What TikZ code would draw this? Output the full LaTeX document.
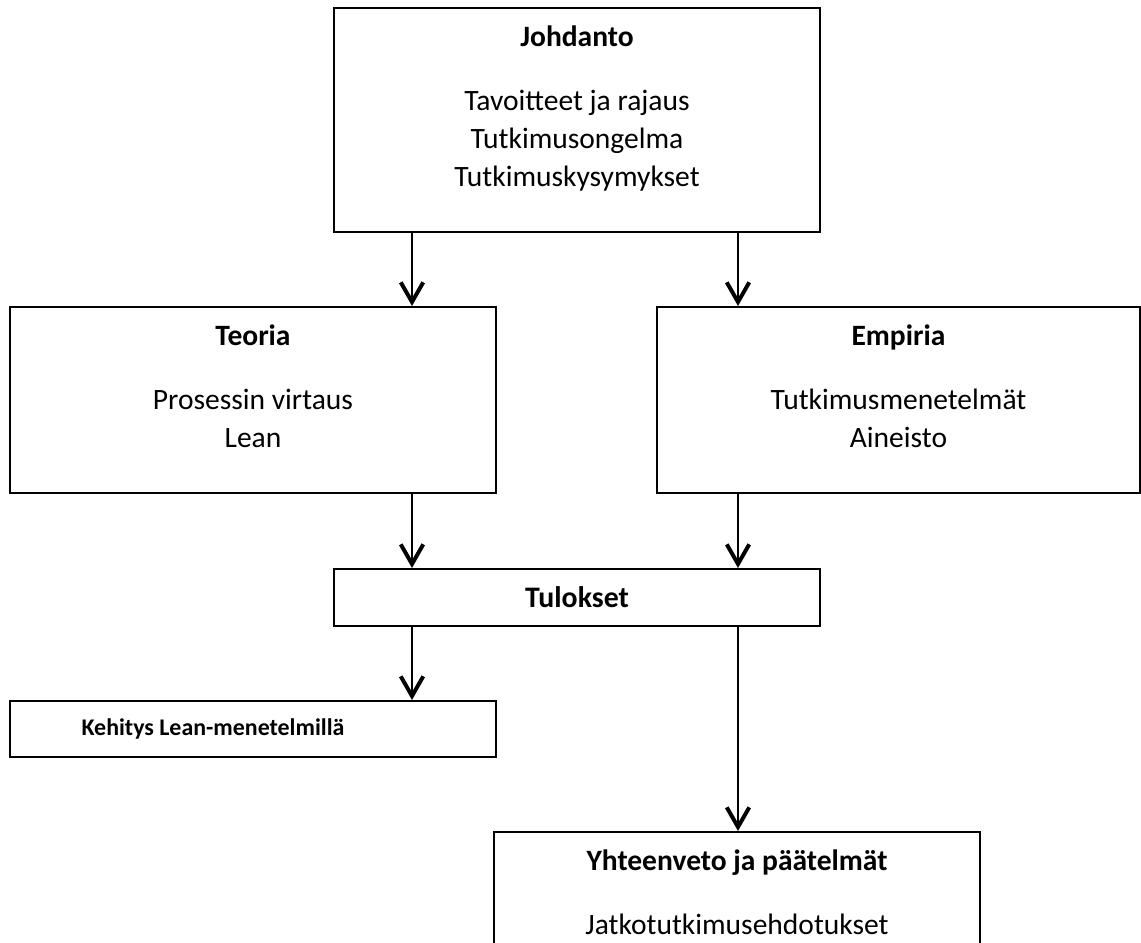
\documentclass[tikz,border=0pt]{standalone}
\usepackage{fontspec}
\setmainfont{Carlito}
\usetikzlibrary{arrows.meta, positioning}

\begin{document}
\begin{tikzpicture}[
    x=0.0125cm, y=-0.0125cm,
    font=\fontsize{10.5}{13.5}\selectfont,
    block/.style={
      draw,
      line width=0.7pt,
      minimum width=6.075cm,
      inner sep=0pt
    },
    txt/.style={align=center, inner sep=0pt},
    flow/.style={-{Straight Barb[length=7pt, width=8pt, line width=1.4pt]}, line width=0.7pt}
  ]
  \clip (0,0) rectangle (1141,943);

  % columns of the arrows
  \coordinate (leftcol) at (412,0);
  \coordinate (rightcol) at (738,0);

  \node[block, minimum height=2.8cm] (johdanto) at (577,120) {};
  \node[txt, below=6.5pt of johdanto.north] (johdantotxt) {\textbf{Johdanto}\\[9.3pt]Tavoitteet ja rajaus\\Tutkimusongelma\\Tutkimuskysymykset};

  \node[block, minimum height=2.325cm] (teoria) at (253,400) {};
  \node[txt, below=6.5pt of teoria.north] (teoriatxt) {\textbf{Teoria}\\[9.3pt]Prosessin virtaus\\Lean};

  \node[block, minimum height=2.325cm, minimum width=6.0375cm] (empiria) at (898.5,400) {};
  \node[txt, below=6.5pt of empiria.north] (empiriatxt) {\textbf{Empiria}\\[9.3pt]Tutkimusmenetelmät\\Aineisto};

  \node[block, minimum height=0.7125cm] (tulokset) at (577,597.5) {};
  \node[txt, font=\fontsize{10.6}{13}\selectfont\bfseries] (tuloksettxt) at (tulokset) {Tulokset};

  \node[block, minimum height=0.7cm] (kehitys) at (253,729) {};
  \node[txt, font=\fontsize{8.5}{11}\selectfont\bfseries] (kehitystxt) at (213,729) {Kehitys Lean-menetelmillä};

  \node[block, minimum height=2.5cm] (yhteenveto) at (737,932) {};
  \node[txt, below=6.5pt of yhteenveto.north] (yhteenvetotxt) {\textbf{Yhteenveto ja päätelmät}\\[9.3pt]Jatkotutkimusehdotukset};

  \draw[flow] (johdanto.south -| leftcol) -- (teoria.north -| leftcol);
  \draw[flow] (johdanto.south -| rightcol) -- (empiria.north -| rightcol);
  \draw[flow] (teoria.south -| leftcol) -- (tulokset.north -| leftcol);
  \draw[flow] (empiria.south -| rightcol) -- (tulokset.north -| rightcol);
  \draw[flow] (tulokset.south -| leftcol) -- (kehitys.north -| leftcol);
  \draw[flow] (tulokset.south -| rightcol) -- (yhteenveto.north -| rightcol);
\end{tikzpicture}
\end{document}
